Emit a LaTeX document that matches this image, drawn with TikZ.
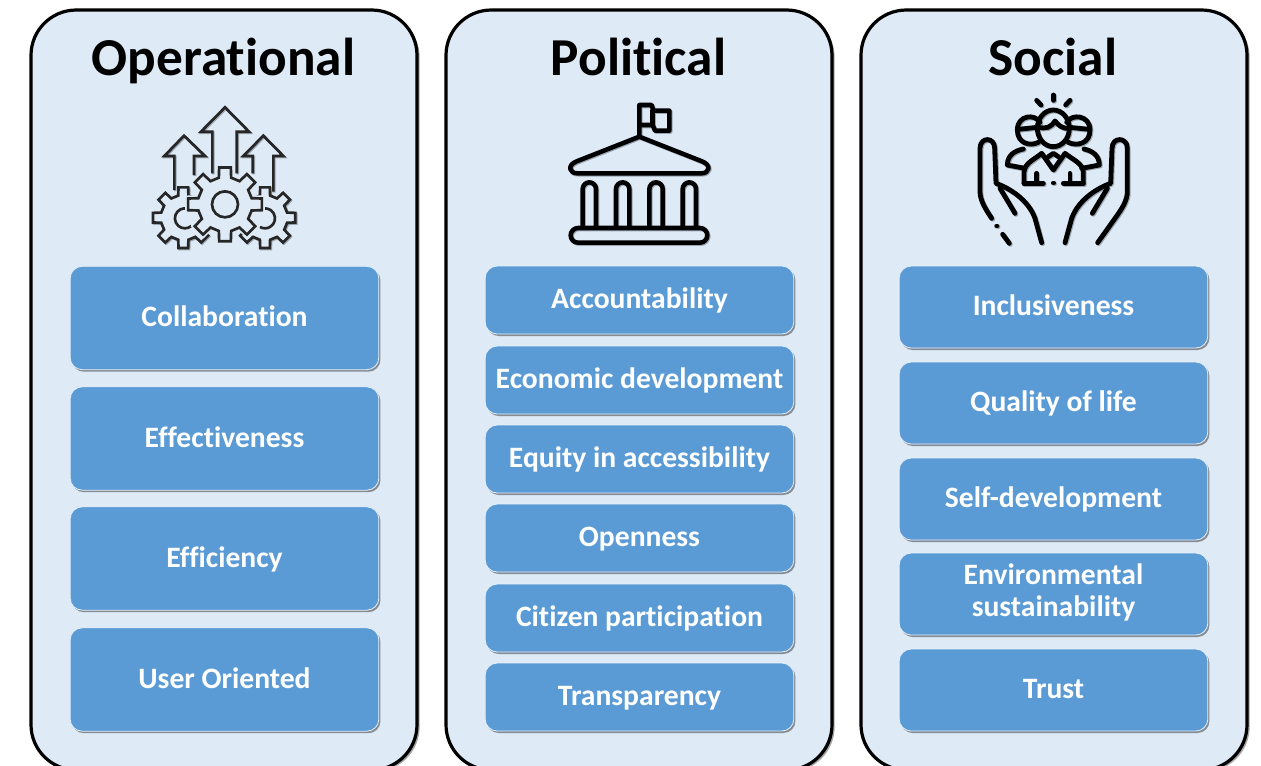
\documentclass[tikz,border=0pt]{standalone}
\usepackage{fontspec}
\setmainfont[Ligatures=CommonOff]{Carlito}
\usetikzlibrary{shadows,calc}
\definecolor{panelfill}{HTML}{DEEAF6}
\definecolor{boxfill}{HTML}{5B9BD5}
\definecolor{iconshadow}{HTML}{9AA6B2}
\tikzset{
  panel/.style={draw=black,line width=2.4pt,fill=panelfill,rounded corners=34pt,minimum width=289.5pt,minimum height=570pt,inner sep=0pt,
    drop shadow={shadow xshift=2pt,shadow yshift=-1.5pt,fill=black,opacity=.35}},
  title/.style={font=\bfseries\fontsize{40}{46}\selectfont,text=black,inner sep=0pt,anchor=base},
  itembox/.style={draw=white!85!boxfill,line width=.6pt,fill=boxfill,rounded corners=9pt,minimum width=231.5pt,text=white,
    font=\bfseries\fontsize{22.2}{24}\selectfont,align=center,inner sep=0pt,
    execute at begin node={\rule{0pt}{19pt}},execute at end node={\rule[-5.6pt]{0pt}{5.6pt}},
    drop shadow={shadow xshift=1.2pt,shadow yshift=-1.5pt,fill=black,opacity=.4}},
  h4/.style={itembox,minimum height=77.5pt},
  h6/.style={itembox,minimum height=51pt},
  h5/.style={itembox,minimum height=61.5pt},
}
\newcommand\gearshape[6]{% cx cy Ro Ri options
  \draw[#5] ($(#1,#2)+(-9:#3*.25pt)$)
    \foreach \a in {0,45,...,315}{
      -- ($(#1,#2)+(\a-9:#3*.25pt)$) -- ($(#1,#2)+(\a+9:#3*.25pt)$)
      -- ($(#1,#2)+(\a+13:#4*.25pt)$) -- ($(#1,#2)+(\a+32:#4*.25pt)$)
    } -- cycle;#6}
\newcommand\iconone[1]{%
  \begin{scope}[draw=#1,line width=2pt,line join=miter]
    \draw (133,300) -- (133,198) -- (103,198) -- (162,137) -- (225,198) -- (192,198) -- (192,255);
    \draw (247,250) -- (247,125) -- (213,125) -- (285,52) -- (357,125) -- (320,125) -- (320,250);
    \draw (368,250) -- (368,198) -- (340,198) -- (400,137) -- (460,198) -- (430,198) -- (430,305);
    \gearshape{160}{383}{92}{68}{fill=panelfill,draw=#1}{}
    \gearshape{405}{383}{92}{68}{fill=panelfill,draw=#1}{}
    \draw (184,362) arc[start angle=-50,end angle=-310,radius=30];
    \draw (390,359) arc[start angle=-120,end angle=120,radius=30];
    \gearshape{285}{343}{112}{82}{fill=panelfill,draw=panelfill,line width=4.5pt}{}
    \gearshape{285}{343}{112}{82}{fill=panelfill,draw=#1}{}
    \draw (285,343) circle[radius=39];
  \end{scope}}
\newcommand\icontwo[1]{%
  \begin{scope}[draw=#1,line width=3.4pt,line join=round,line cap=round]
    \draw (268,140) -- (268,45) -- (305,45) -- (310,62) -- (358,62) -- (358,122) -- (315,122) -- (308,105) -- (268,105);
    \draw (308,62) -- (308,105);
    \draw (268,140) -- (80,214) .. controls (50,226) and (58,250) .. (82,250) -- (454,250) .. controls (478,250) and (486,226) .. (456,214) -- cycle;
    \foreach \c in {118,218,318,418}
      \draw[rounded corners=5pt] (\c-20,410) -- (\c-20,277) -- (\c+20,277) -- (\c+20,410);
    \draw[rounded corners=5.5pt] (62,414) rectangle (472,458);
  \end{scope}}
\newcommand\iconthree[1]{%
  \begin{scope}[draw=#1,line width=3.6pt,line join=round,line cap=round]
    \draw (280,30) -- (280,46);
    \draw (230,46) -- (243,60);
    \draw (330,46) -- (317,60);
    \draw (280,130) ellipse[x radius=48,y radius=55];
    \draw (232,125) .. controls (258,135) and (275,125) .. (285,108) .. controls (295,122) and (310,132) .. (328,130);
    \draw (240,112) .. controls (225,85) and (172,90) .. (172,135) .. controls (172,175) and (210,185) .. (235,172);
    \draw (174,133) -- (232,127);
    \draw (320,112) .. controls (335,85) and (390,90) .. (390,135) .. controls (390,175) and (352,185) .. (325,172);
    \draw (328,127) -- (388,133);
    \draw (192,295) -- (192,262) .. controls (192,235) and (225,222) .. (245,205) -- (280,255) -- (315,205) .. controls (335,222) and (370,235) .. (370,262) -- (370,295);
    \draw (265,215) -- (280,205) -- (295,215);
    \draw (190,192) .. controls (165,197) and (142,210) .. (142,240) -- (195,250);
    \draw (372,192) .. controls (395,197) and (418,210) .. (418,240) -- (365,250);
    \draw (192,295) -- (250,295);
    \draw (230,295) -- (230,265);
    \draw (310,295) -- (370,295);
    \draw (330,295) -- (330,265);
    \draw (280,294) -- (281,294);
    % hands
    \draw (95,400) .. controls (75,370) and (60,345) .. (60,320) -- (60,190) .. controls (60,155) and (104,155) .. (104,190) -- (108,295) .. controls (150,310) and (205,345) .. (225,400) -- (245,473);
    \draw (120,310) -- (165,385);
    \draw (110,423) -- (111,423);
    \draw (128,448) -- (148,475);
    \draw (413,473) -- (465,400) .. controls (487,370) and (502,345) .. (502,320) -- (502,190) .. controls (502,155) and (456,155) .. (456,190) -- (452,295) .. controls (410,310) and (355,345) .. (335,400) -- (315,473);
    \draw (442,310) -- (397,385);
  \end{scope}}
\begin{document}
\begin{tikzpicture}[x=.75pt,y=-.75pt]
\useasboundingbox (0,0) rectangle (1261,765);
\clip (0,0) rectangle (1261,765);
\fill[white] (0,0) rectangle (1261,765);
% panels
\node[panel] (p1) at (224,390) {};
\node[panel] (p2) at (639,390) {};
\node[panel] (p3) at (1054,390) {};
% titles
\node[title] (t1) at (223.5,75) {Operational};
\node[title] (t2) at (638.5,75) {Political};
\node[title] (t3) at (1053,75) {Social};
% icons
\begin{scope}[shift={(131,91)},x=.25pt,y=-.25pt]\iconone{iconshadow}\end{scope}
\begin{scope}[shift={(130,90)},x=.25pt,y=-.25pt]\iconone{black!85}\end{scope}
\begin{scope}[shift={(551,91)},x=.25pt,y=-.25pt]\icontwo{iconshadow}\end{scope}
\begin{scope}[shift={(550,90)},x=.25pt,y=-.25pt]\icontwo{black}\end{scope}
\begin{scope}[shift={(961,86)},x=.25pt,y=-.25pt]\iconthree{iconshadow}\end{scope}
\begin{scope}[shift={(960,85)},x=.25pt,y=-.25pt]\iconthree{black}\end{scope}
% column 1
\node[h4] (a1) at (224.5,318) {Collaboration};
\node[h4] (a2) at (224.5,438.5) {Effectiveness};
\node[h4] (a3) at (224.5,558.5) {Efficiency};
\node[h4] (a4) at (224.5,679.5) {User Oriented};
% column 2
\node[h6] (b1) at (639.5,300) {Accountability};
\node[h6] (b2) at (639.5,380) {Economic development};
\node[h6] (b3) at (639.5,459) {Equity in accessibility};
\node[h6] (b4) at (639.5,538) {Openness};
\node[h6] (b5) at (639.5,618) {Citizen participation};
\node[h6] (b6) at (639.5,697) {Transparency};
% column 3
\node[h5] (c1) at (1053.5,307) {Inclusiveness};
\node[h5] (c2) at (1053.5,403) {Quality of life};
\node[h5] (c3) at (1053.5,499) {Self-development};
\node[h5] (c4) at (1053.5,594) {Environmental\\sustainability};
\node[h5] (c5) at (1053.5,690) {Trust};
\end{tikzpicture}
\end{document}
